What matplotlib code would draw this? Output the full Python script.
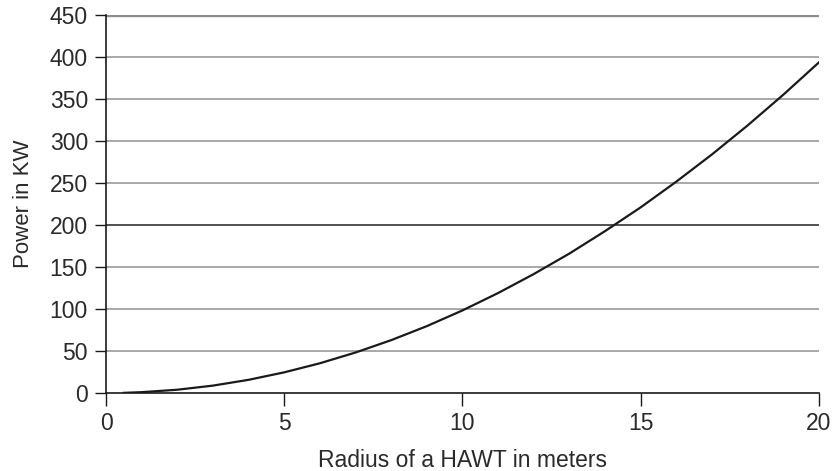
import matplotlib
matplotlib.use("Agg")
import matplotlib.pyplot as plt

radius_m = [0.5, 1, 2, 3, 4, 5, 6, 7, 8, 9, 10, 11, 12, 13, 14, 15, 16, 17, 18, 19, 20]
power_kw = [0.2, 1.0, 3.9, 8.8, 15.7, 24.6, 35.4, 48.2, 62.9, 79.6, 98.3, 119.0,
            141.6, 166.0, 192.7, 221.0, 251.6, 284.0, 318.5, 355.0, 393.5]
y_ticks = [0, 50, 100, 150, 200, 250, 300, 350, 400, 450]
x_ticks = [0, 5, 10, 15, 20]

plt.rcParams['font.family'] = ['Liberation Sans', 'DejaVu Sans']
text_color = '#2a2a2a'

fig = plt.figure(figsize=(8.33, 4.71), dpi=100)
ax = fig.add_axes([0.1273, 0.1656, 0.8557, 0.8025])

for y in y_ticks[1:]:
    if y == 200:
        ax.axhline(y, color='#333333', lw=1.2, zorder=1)
    elif y == 450:
        ax.axhline(y, color='#8c8c8c', lw=2.4, zorder=1)
    else:
        ax.axhline(y, color='#9a9a9a', lw=1.2, zorder=1)

ax.plot(radius_m, power_kw, color='#1a1a1a', lw=1.6, zorder=3)

ax.set_xlim(0, 20)
ax.set_ylim(0, 450)
ax.set_xticks(x_ticks)
ax.set_yticks(y_ticks)

for s in ['top', 'right']:
    ax.spines[s].set_visible(False)
ax.spines['left'].set_color('#1a1a1a')
ax.spines['bottom'].set_color('#1a1a1a')
ax.spines['left'].set_linewidth(1.2)
ax.spines['bottom'].set_linewidth(1.2)

ax.tick_params(axis='y', length=8, width=1.0, color='#1a1a1a', labelsize=16.5,
               labelcolor=text_color, pad=5)
ax.tick_params(axis='x', length=9, width=1.0, color='#1a1a1a', labelsize=16.5,
               labelcolor=text_color, pad=5)

ax.set_xlabel('Radius of a HAWT in meters', fontsize=16.5, color=text_color, labelpad=10)
ax.set_ylabel('Power in KW', fontsize=16, color=text_color, labelpad=11)

fig.savefig('out.png', dpi=100)
